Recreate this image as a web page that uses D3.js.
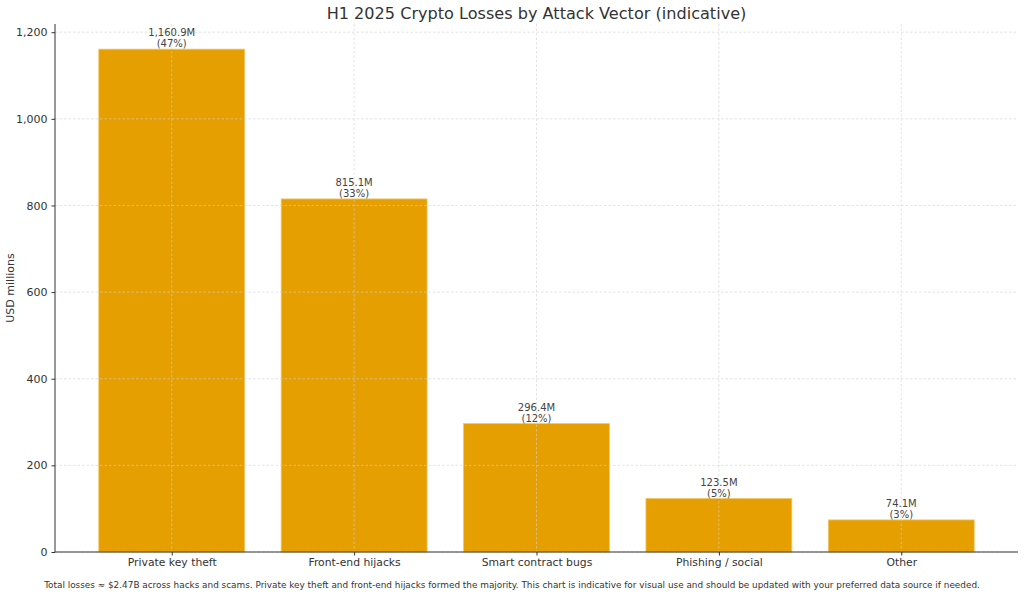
<!DOCTYPE html>
<html><head><meta charset="utf-8">
<script src="https://cdn.jsdelivr.net/npm/d3@7"></script>
<style>body{margin:0;background:#fff;font-family:"DejaVu Sans",sans-serif;}</style>
</head><body><svg id="c" width="1024" height="596"></svg>
<script>
const categories = ["Private key theft","Front-end hijacks","Smart contract bugs","Phishing / social","Other"];
const values = [1160.9, 815.1, 296.4, 123.5, 74.1];
const shares = ["47%","33%","12%","5%","3%"];
const yTicks = [0,200,400,600,800,1000,1200];
const title = "H1 2025 Crypto Losses by Attack Vector (indicative)";
const yLabel = "USD millions";
const footnote = "Total losses ≈ $2.47B across hacks and scams. Private key theft and front-end hijacks formed the majority. This chart is indicative for visual use and should be updated with your preferred data source if needed.";

const svg = d3.select("#c");
const L=55, R=1018, T=24, B=552;
const x = d3.scaleLinear().domain([-0.64, categories.length-1+0.64]).range([L,R]);
const bw = x(0.8)-x(0);
const y = d3.scaleLinear().domain([0, d3.max(values)*1.05]).range([B,T]);
const txt="#333";

svg.append("text").attr("x",(L+R)/2).attr("y",19).attr("text-anchor","middle")
  .attr("font-size",16.1).attr("fill",txt).text(title);

// bars
svg.append("g").selectAll("rect").data(values).join("rect")
  .attr("x",(d,i)=>x(i)-bw/2).attr("width",bw)
  .attr("y",d=>y(d)).attr("height",d=>B-y(d))
  .attr("fill","#E69F00").attr("stroke","#f2c66b").attr("stroke-width",0.8);

// grid
const g = svg.append("g").attr("stroke","#d0d0d0").attr("stroke-width",0.6).attr("stroke-dasharray","2.5,2");
g.selectAll(".gy").data(yTicks).join("line").attr("x1",L).attr("x2",R).attr("y1",d=>y(d)).attr("y2",d=>y(d));
g.selectAll(".gx").data(categories).join("line").attr("x1",(d,i)=>x(i)).attr("x2",(d,i)=>x(i)).attr("y1",T).attr("y2",B);

// axes
const ya = d3.axisLeft(y).tickValues(yTicks).tickFormat(d3.format(",")).tickSize(3.5).tickPadding(4);
const yg = svg.append("g").attr("transform",`translate(${L},0)`).call(ya);
yg.select(".domain").attr("d",`M0,${T}V${B}`).attr("stroke","#333").attr("stroke-width",1);
yg.selectAll("text").attr("font-size",11).attr("fill",txt).attr("font-family","DejaVu Sans");
yg.selectAll(".tick line").attr("stroke","#333");

const xa = d3.axisBottom(x).tickValues(d3.range(categories.length)).tickFormat(i=>categories[i]).tickSize(3.5).tickPadding(3);
const xg = svg.append("g").attr("transform",`translate(0,${B})`).call(xa);
xg.select(".domain").attr("d",`M${L},0H${R}`).attr("stroke","#333").attr("stroke-width",1);
xg.selectAll("text").attr("font-size",10.8).attr("fill",txt).attr("font-family","DejaVu Sans");
xg.selectAll(".tick line").attr("stroke","#333");

svg.append("text").attr("transform",`translate(14,${(T+B)/2}) rotate(-90)`).attr("text-anchor","middle")
  .attr("font-size",11).attr("fill",txt).text(yLabel);

// labels
const lab = svg.append("g").attr("font-size",10).attr("fill","#444").attr("text-anchor","middle");
values.forEach((v,i)=>{
  lab.append("text").attr("x",x(i)).attr("y",y(v)-13).text(d3.format(",.1f")(v)+"M");
  lab.append("text").attr("x",x(i)).attr("y",y(v)-2).text("("+shares[i]+")");
});

svg.append("text").attr("x",512).attr("y",588).attr("text-anchor","middle")
  .attr("font-size",8.9).attr("fill",txt).text(footnote);
</script></body></html>
